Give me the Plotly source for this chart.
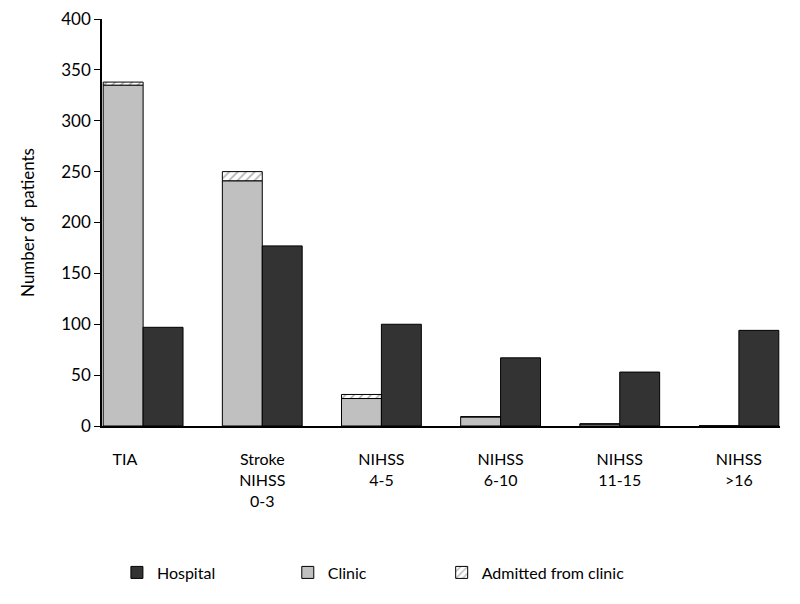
import plotly.graph_objects as go

categories = ["TIA&nbsp;&nbsp;&nbsp;&nbsp;&nbsp;&nbsp;&nbsp;&nbsp;&nbsp;", "Stroke<br>NIHSS<br>0-3", "NIHSS<br>4-5", "NIHSS<br>6-10", "NIHSS<br>11-15", "NIHSS<br>>16"]
clinic = [335, 241, 27, 9, 2, 0]
admitted = [3, 9, 4, 0, 0, 0]
hospital = [97, 177, 100, 67, 53, 94]

font = "Lato, 'Open Sans', sans-serif"
line = dict(color="black", width=1)

fig = go.Figure()
fig.add_trace(go.Bar(x=categories, y=clinic, name="Clinic", offsetgroup="c",
                     marker=dict(color="#c0c0c0", line=line), legend="legend2"))
fig.add_trace(go.Bar(x=categories, y=admitted, base=clinic, name="Admitted from clinic", offsetgroup="c",
                     marker=dict(color="white", line=line,
                                 pattern=dict(shape="/", fgcolor="#555555", bgcolor="white", size=6, solidity=0.25)),
                     legend="legend3"))
fig.add_trace(go.Bar(x=categories, y=hospital, name="Hospital", offsetgroup="h",
                     marker=dict(color="#333333", line=line), legend="legend"))

leg = dict(orientation="h", yanchor="middle", xanchor="left", font=dict(size=16, family=font, color="black"),
           bgcolor="rgba(0,0,0,0)")
fig.update_layout(
    width=800, height=604,
    margin=dict(l=94, r=28, t=11, b=186, autoexpand=False),
    plot_bgcolor="white", paper_bgcolor="white",
    barmode="group", bargap=0.33, bargroupgap=0,
    font=dict(family=font, size=16, color="black"),
    showlegend=True,
    legend=dict(leg, x=0.022, y=-0.36),
    legend2=dict(leg, x=0.274, y=-0.36),
    legend3=dict(leg, x=0.501, y=-0.36),
    xaxis=dict(range=[-0.345, 5.345], showline=True, linecolor="black", linewidth=1.5, automargin=False,
               ticks="", tickfont=dict(size=16), ticklabelstandoff=18, showgrid=False),
    yaxis=dict(range=[0, 400], dtick=50, showline=True, linecolor="black", linewidth=1.5, automargin=False,
               ticks="outside", ticklen=6, tickcolor="black", showgrid=False, zeroline=False,
               ticklabeloverflow="allow",
               tickfont=dict(size=17), title=dict(text="Number of  patients", font=dict(size=17), standoff=22)),
)
fig.write_html("out.html")
